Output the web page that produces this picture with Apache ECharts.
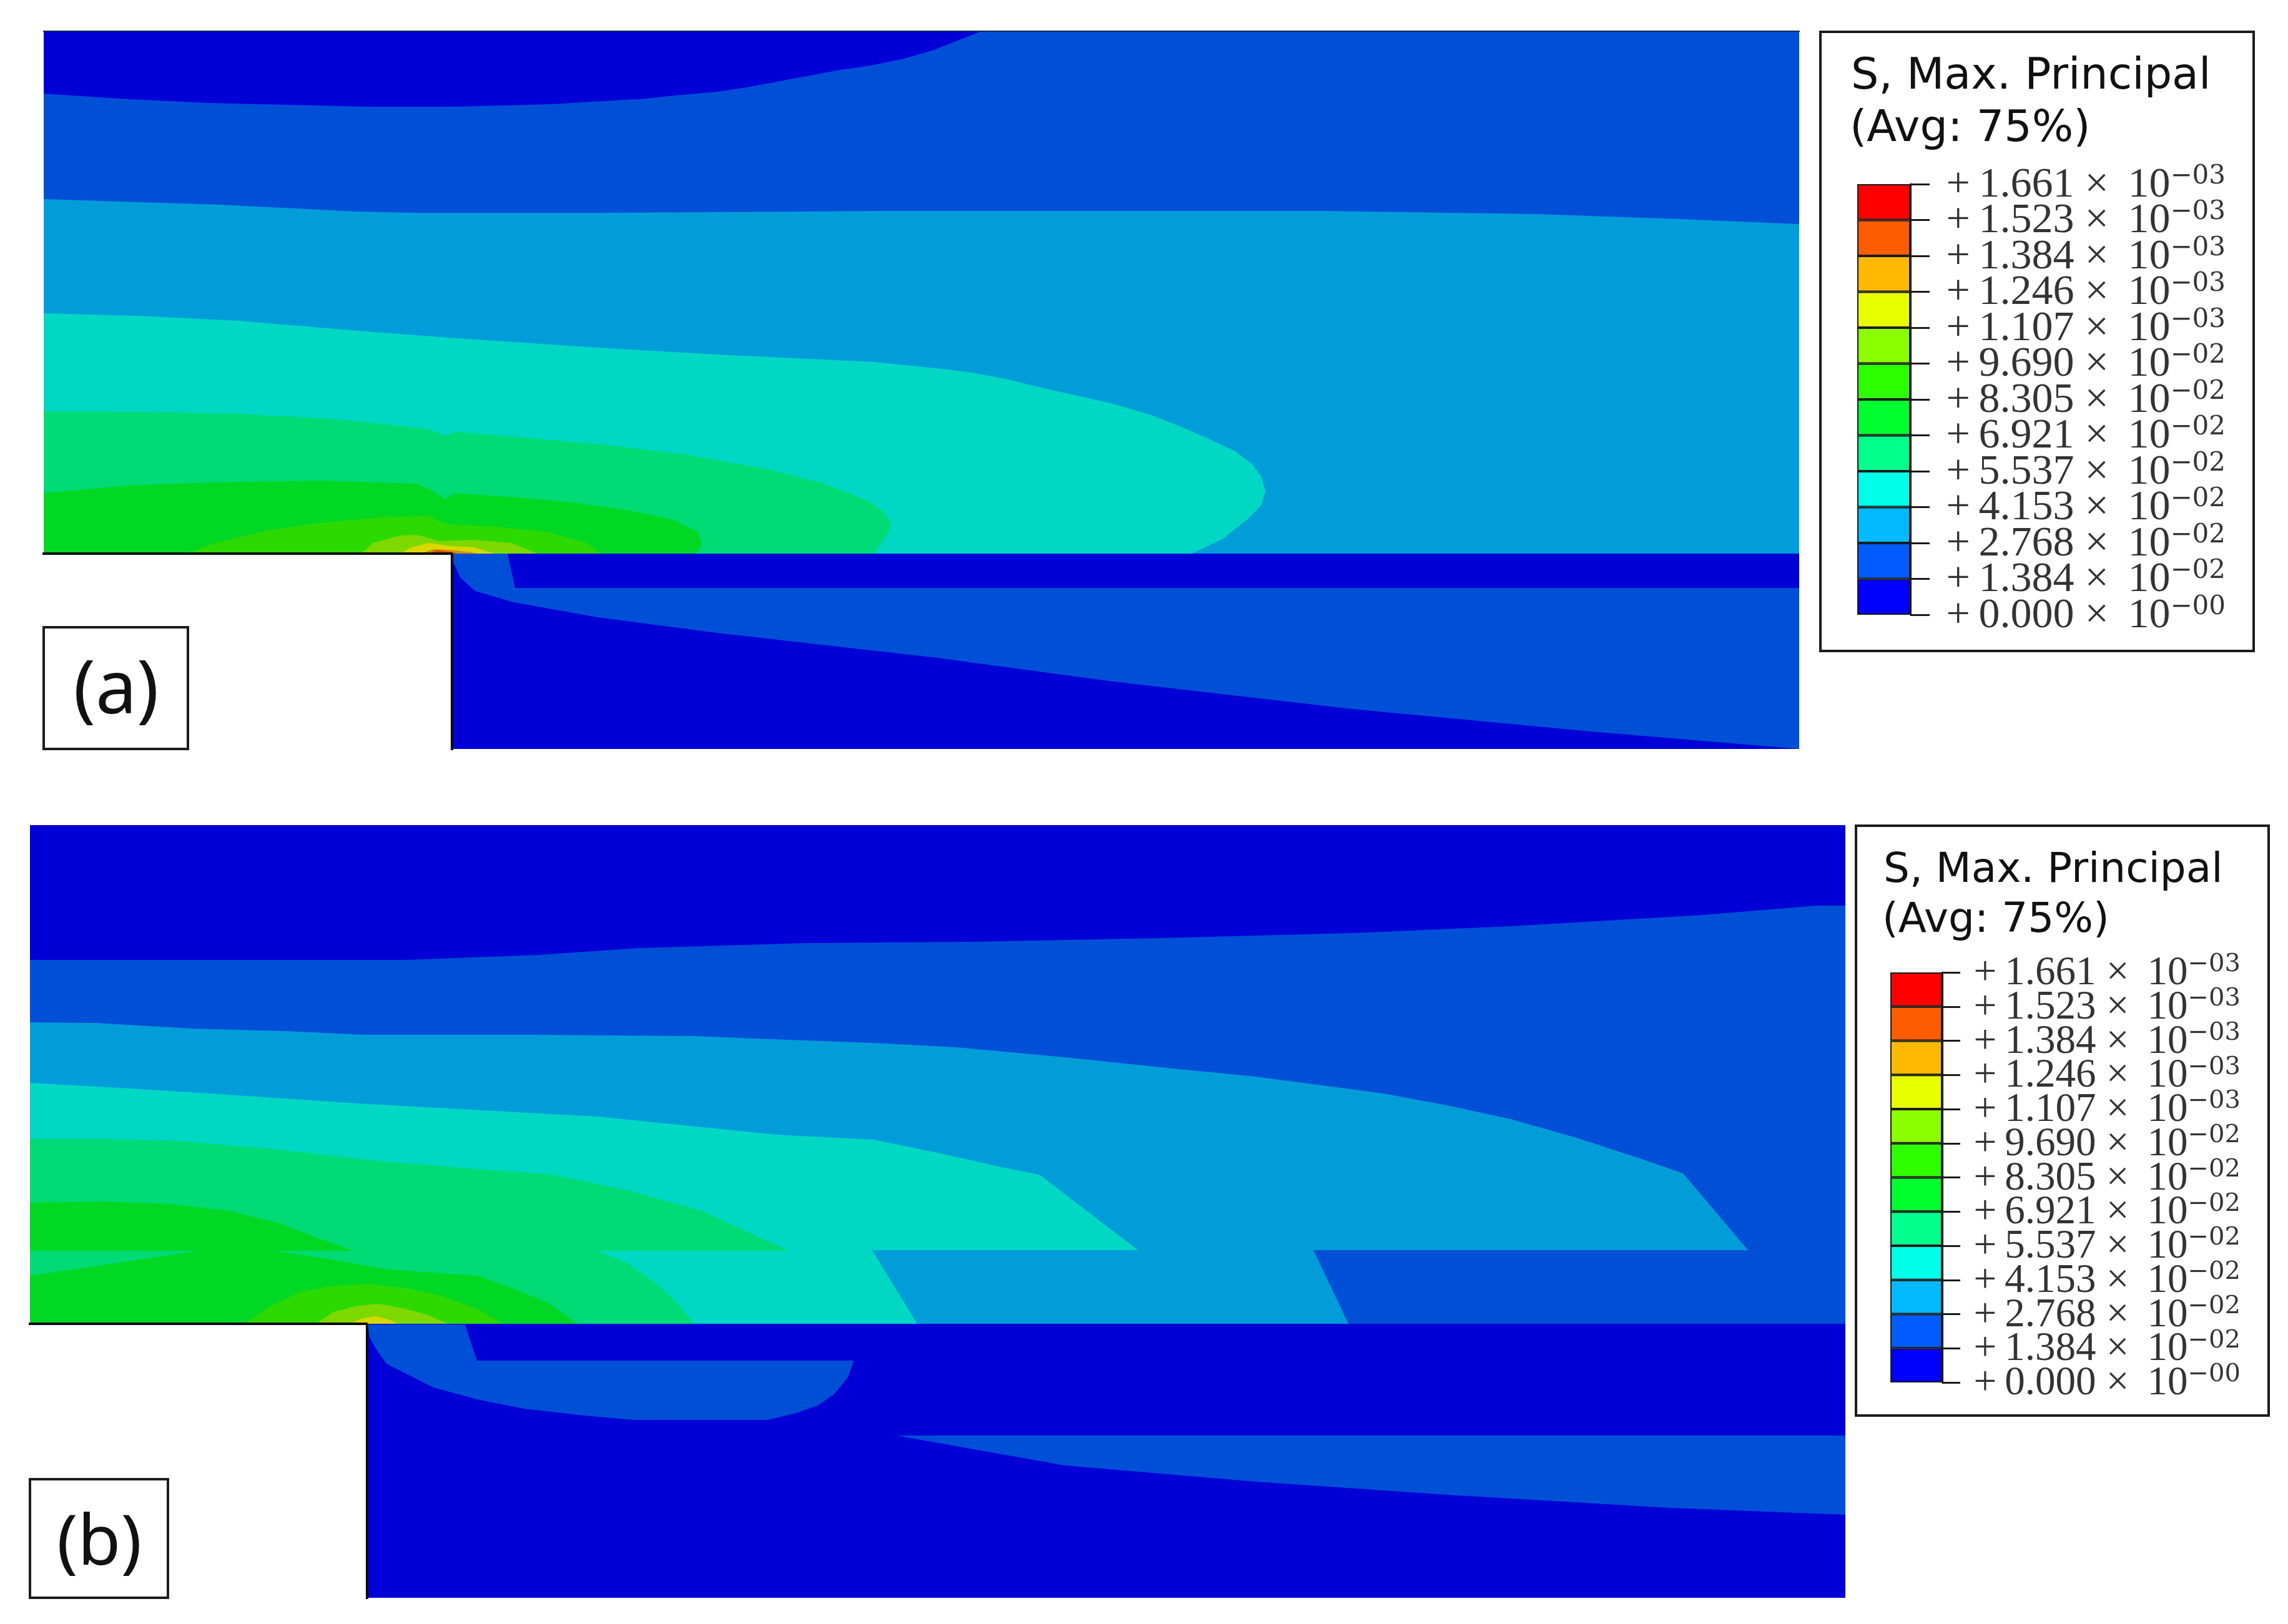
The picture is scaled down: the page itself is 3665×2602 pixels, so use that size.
<!DOCTYPE html>
<html>
<head>
<meta charset="utf-8">
<title>S, Max. Principal</title>
<style>html,body{margin:0;padding:0;background:#fff}#chart{width:3665px;height:2602px}</style>
<script src="https://cdn.jsdelivr.net/npm/echarts@6/dist/echarts.min.js"></script>
</head>
<body>
<div id="chart"></div>
<script>
// contour band colours, lowest to highest
var bandColors = ['#0000d6', '#004fd7', '#009dd9', '#00d8c4', '#00db76', '#00d824', '#2cd900', '#7dd900', '#d9d900', '#d99000', '#d95000', '#d90000'];
// legend
var legendColors = ['#0000ff', '#005cff', '#00b9ff', '#00ffe8', '#00ff8b', '#00ff2e', '#2eff00', '#8bff00', '#e8ff00', '#ffb900', '#ff5c00', '#ff0000'];
var legendMantissa = ['+0.000', '+1.384', '+2.768', '+4.153', '+5.537', '+6.921', '+8.305', '+9.690', '+1.107', '+1.246', '+1.384', '+1.523', '+1.661'];
var legendExponent = ['−00', '−02', '−02', '−02', '−02', '−02', '−02', '−02', '−03', '−03', '−03', '−03', '−03'];
var legendStep = [1, 1, 1, 1, 1, 1, 1, 1, 1, 1, 1, 1];

// panel (a), contours as [x, height] on the model axes
var aUpper = [[0, 313], [2812, 313], [2812, 1150], [0, 1150]];
var aLevel1 = [[0, 1150], [0, 1050], [122, 1042], [265, 1035], [523, 1029], [657, 1029], [811, 1033], [964, 1042], [1011, 1047], [1078, 1053], [1126, 1060], [1174, 1069], [1270, 1087], [1330, 1096], [1378, 1106], [1426, 1120], [1464, 1135], [1502, 1150]];
var aLevel3 = [[0, 313], [0, 881], [284, 872], [504, 861], [600, 859], [887, 859], [1203, 861], [1330, 862], [2057, 862], [2392, 857], [2622, 849], [2812, 841], [2812, 313]];
var aLevel4 = [[0, 313], [0, 698], [150, 694], [313, 686], [504, 670], [648, 659], [887, 643], [1078, 632], [1330, 620], [1430, 610], [1487, 603], [1545, 592], [1602, 578], [1660, 565], [1717, 552], [1774, 535], [1832, 512], [1870, 495], [1908, 477], [1935, 457], [1950, 437], [1957, 413], [1950, 390], [1927, 367], [1889, 337], [1839, 313]];
var aLevel5 = [[0, 313], [0, 541], [152, 540], [312, 537], [446, 530], [554, 520], [616, 512], [643, 502], [661, 508], [759, 500], [893, 488], [1027, 472], [1161, 448], [1250, 425], [1321, 397], [1345, 380], [1357, 363], [1355, 350], [1348, 340], [1330, 313]];
var aLevel6 = [[0, 313], [0, 410], [134, 422], [268, 427], [446, 430], [598, 425], [625, 412], [643, 400], [656, 410], [759, 403], [848, 395], [938, 382], [1009, 367], [1049, 347], [1054, 327], [1045, 313]];
var aLevel7 = [[228, 313], [268, 328], [357, 350], [446, 363], [554, 372], [616, 373], [647, 360], [714, 357], [804, 348], [866, 332], [893, 313]];
var aLevel8 = [[509, 313], [527, 330], [571, 342], [598, 343], [634, 333], [688, 335], [750, 330], [790, 313]];
var aLevel9 = [[571, 313], [589, 323], [616, 330], [652, 325], [688, 323], [723, 313]];
var aLevel10 = [[605, 313], [623, 320], [650, 319], [680, 316], [695, 313]];
var aLevel11 = [[617, 313], [630, 319], [653, 316], [662, 313]];
var aLower = [[654, 0], [2812, 0], [2812, 313], [654, 313]];
var aLowerLevel2 = [[654, 313], [743, 313], [755, 258], [2812, 258], [2812, 0], [2478, 28], [2096, 64], [1713, 108], [1431, 146], [1078, 186], [887, 211], [753, 235], [691, 253], [667, 275], [654, 303]];
var aEdge = [[0, 313], [654, 313], [654, 0]];
var aTopEdge = [[0, 1150], [2812, 1150]];

// panel (b)
var bUpper = [[0, 439], [2908, 439], [2908, 1238], [0, 1238]];
var bLevel2 = [[0, 439], [0, 1022], [603, 1022], [813, 1030], [976, 1041], [1244, 1049], [1505, 1051], [1811, 1057], [2117, 1065], [2372, 1076], [2679, 1094], [2862, 1109], [2908, 1109], [2908, 439]];
var bLevel3 = [[0, 439], [0, 922], [105, 921], [258, 912], [411, 908], [536, 902], [813, 902], [1062, 900], [1215, 894], [1352, 889], [1485, 882], [1658, 866], [1811, 850], [1964, 835], [2168, 808], [2270, 789], [2372, 767], [2474, 738], [2576, 705], [2648, 680], [2752, 557], [2056, 557], [2112, 439]];
var bLevel4 = [[0, 439], [0, 825], [144, 817], [287, 808], [526, 792], [909, 771], [1196, 742], [1352, 734], [1454, 713], [1556, 690], [1617, 678], [1775, 557], [1349, 557], [1421, 439]];
var bLevel5 = [[0, 439], [0, 735], [120, 735], [239, 732], [399, 718], [558, 700], [717, 687], [837, 678], [957, 653], [1076, 620], [1156, 583], [1216, 556], [909, 556], [957, 536], [1004, 503], [1036, 473], [1064, 439]];
var bLevel6 = [[0, 633], [120, 635], [223, 631], [319, 620], [399, 600], [462, 576], [518, 556], [391, 556], [478, 543], [574, 526], [717, 516], [773, 496], [829, 473], [877, 439], [0, 439], [0, 516], [271, 556], [0, 556]];
var bLevel7 = [[343, 439], [383, 466], [430, 489], [478, 499], [542, 503], [606, 496], [662, 483], [717, 463], [757, 439]];
var bLevel8 = [[458, 439], [486, 458], [526, 468], [558, 471], [598, 464], [638, 453], [670, 439]];
var bLevel9 = [[510, 439], [534, 448], [554, 451], [574, 446], [590, 439]];
var bLower = [[540, 0], [2908, 0], [2908, 439], [540, 439]];
var bLowerLobe = [[541, 438], [697, 438], [716, 380], [1320, 380], [1310, 353], [1289, 327], [1262, 308], [1224, 295], [1182, 285], [967, 285], [887, 292], [791, 303], [716, 318], [646, 337], [571, 375], [558, 393], [544, 417]];
var bLowerWedge = [[1388, 260], [2908, 260], [2908, 133], [2628, 144], [2270, 165], [1964, 186], [1658, 212]];
var bEdge = [[0, 439], [540, 439], [540, 0]];

function polygon(points, color, axis) {
  return {
    type: 'custom',
    xAxisIndex: axis,
    yAxisIndex: axis,
    silent: true,
    data: points,
    renderItem: function (params, api) {
      if (params.dataIndex !== 0) return null;
      return {
        type: 'polygon',
        shape: { points: points.map(function (p) { return api.coord(p); }) },
        style: { fill: color }
      };
    }
  };
}

function edge(points, color, width, axis) {
  return {
    type: 'line',
    xAxisIndex: axis,
    yAxisIndex: axis,
    silent: true,
    symbol: 'none',
    data: points,
    lineStyle: { color: color, width: width, cap: 'square' }
  };
}

function legendBars(axis) {
  return legendStep.map(function (step, i) {
    return {
      type: 'bar',
      xAxisIndex: axis,
      yAxisIndex: axis,
      stack: 'scale' + axis,
      barWidth: '100%',
      silent: true,
      data: [step],
      itemStyle: { color: legendColors[i], borderColor: '#1a1a1a', borderWidth: 2 }
    };
  });
}

// axis labels drop the neighbours of the end ticks here, so the tick texts hang on points
function legendLabels(axis, gap, mainSize, supSize) {
  return {
    type: 'scatter',
    xAxisIndex: axis,
    yAxisIndex: axis,
    silent: true,
    symbolSize: 0,
    data: legendMantissa.map(function (m, i) { return ['S', i]; }),
    label: {
      show: true,
      position: 'right',
      distance: gap,
      formatter: function (p) {
        return '{m|' + legendMantissa[p.dataIndex].replace('+', '+\u2009') + ' ×\u2009 10}{e|' + legendExponent[p.dataIndex] + '}';
      },
      rich: {
        m: { fontFamily: 'Liberation Serif', fontSize: mainSize, lineHeight: 40, color: '#000', padding: [4, 0, 0, 0] },
        e: { fontFamily: 'DejaVu Serif', fontSize: supSize, lineHeight: 26, color: '#000', padding: [0, 0, 24, 0] }
      }
    }
  };
}

function legendYAxis(gridIndex, tickLen) {
  return {
    gridIndex: gridIndex,
    type: 'value',
    position: 'right',
    min: 0,
    max: 12,
    interval: 1,
    splitLine: { show: false },
    axisLabel: { show: false },
    axisLine: { show: true, lineStyle: { color: '#1a1a1a', width: 3 } },
    axisTick: { show: true, length: tickLen, lineStyle: { color: '#1a1a1a', width: 3 } }
  };
}

function plotAxis(gridIndex, max) {
  return { gridIndex: gridIndex, type: 'value', min: 0, max: max, show: false, splitLine: { show: false } };
}

function boxedText(left, top, width, height) {
  return {
    type: 'rect',
    shape: { x: left, y: top, width: width, height: height },
    style: { fill: '#fff', stroke: '#1c1c1c', lineWidth: 4 },
    silent: true
  };
}

function label(text, x, y, size, family, align) {
  return {
    type: 'text',
    x: x,
    y: y,
    silent: true,
    style: {
      text: text,
      fontFamily: family,
      fontSize: size,
      fill: '#111',
      textAlign: align,
      textVerticalAlign: 'middle'
    }
  };
}

var series = [
  polygon(aUpper, bandColors[1], 0),
  polygon(aLevel1, bandColors[0], 0),
  polygon(aLevel3, bandColors[2], 0),
  polygon(aLevel4, bandColors[3], 0),
  polygon(aLevel5, bandColors[4], 0),
  polygon(aLevel6, bandColors[5], 0),
  polygon(aLevel7, bandColors[6], 0),
  polygon(aLevel8, bandColors[7], 0),
  polygon(aLevel9, bandColors[8], 0),
  polygon(aLevel10, bandColors[9], 0),
  polygon(aLevel11, bandColors[10], 0),
  polygon(aLower, bandColors[0], 0),
  polygon(aLowerLevel2, bandColors[1], 0),
  edge(aEdge, '#0a0a14', 4, 0),
  edge(aTopEdge, '#14285a', 2, 0),

  polygon(bUpper, bandColors[0], 1),
  polygon(bLevel2, bandColors[1], 1),
  polygon(bLevel3, bandColors[2], 1),
  polygon(bLevel4, bandColors[3], 1),
  polygon(bLevel5, bandColors[4], 1),
  polygon(bLevel6, bandColors[5], 1),
  polygon(bLevel7, bandColors[6], 1),
  polygon(bLevel8, bandColors[7], 1),
  polygon(bLevel9, bandColors[8], 1),
  polygon(bLower, bandColors[0], 1),
  polygon(bLowerLobe, bandColors[1], 1),
  polygon(bLowerWedge, bandColors[1], 1),
  edge(bEdge, '#0a0a14', 4, 1)
].concat(legendBars(2), legendBars(3), [legendLabels(2, 100, 68, 42), legendLabels(3, 92, 65, 40)]);

var myChart = echarts.init(document.getElementById('chart'));
myChart.setOption({
  animation: false,
  backgroundColor: '#fff',
  grid: [
    { left: 70, top: 50, width: 2812, height: 1150 },
    { left: 48, top: 1322, width: 2908, height: 1238 },
    { left: 2975, top: 295, width: 85, height: 690 },
    { left: 3028, top: 1558, width: 83, height: 657 }
  ],
  xAxis: [
    plotAxis(0, 2812),
    plotAxis(1, 2908),
    { gridIndex: 2, type: 'category', data: ['S'], show: false },
    { gridIndex: 3, type: 'category', data: ['S'], show: false }
  ],
  yAxis: [
    plotAxis(0, 1150),
    plotAxis(1, 1238),
    legendYAxis(2, 31),
    legendYAxis(3, 29)
  ],
  series: series,
  graphic: {
    elements: [
      { type: 'group', z: -1, silent: true, children: [boxedText(2916, 51, 694, 992), boxedText(2973, 1323, 661, 945)] },
      boxedText(70, 1005, 231, 195),
      boxedText(48, 2370, 221, 190),
      label('(a)', 186, 1109, 118, 'Noto Sans', 'center'),
      label('(b)', 159, 2475, 112, 'Noto Sans', 'center'),
      label('S, Max. Principal', 2965, 124, 70, 'DejaVu Sans', 'left'),
      label('(Avg: 75%)', 2963, 208, 70, 'DejaVu Sans', 'left'),
      label('S, Max. Principal', 3017, 1396, 66, 'DejaVu Sans', 'left'),
      label('(Avg: 75%)', 3015, 1476, 66, 'DejaVu Sans', 'left')
    ]
  }
});
</script>
</body>
</html>
